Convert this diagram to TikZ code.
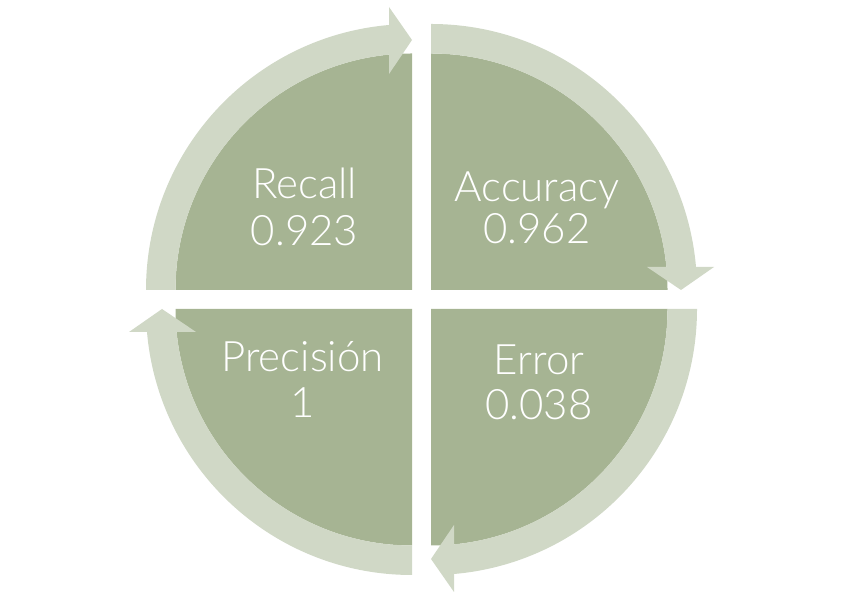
\documentclass[tikz,border=0pt]{standalone}
\usepackage{fontspec}
\setmainfont{Lato Light}
\definecolor{quad}{HTML}{A6B493}
\definecolor{band}{HTML}{D0D8C6}
\tikzset{
  quadfill/.style={fill=quad, draw=none},
  bandfill/.style={fill=band, draw=none},
  lbl/.style={text=white, anchor=base, inner sep=0pt, font=\fontsize{42}{50}\selectfont}
}
\newcommand{\quadpiece}{%
  \fill[quadfill] (0,0) -- (0:236.5) arc[start angle=0, end angle=90, radius=236.5] -- cycle;
  \fill[bandfill] (90:236.5) -- (90:266) arc[start angle=90, end angle=4, radius=266]
      -- (4:236.5) arc[start angle=4, end angle=90, radius=236.5] -- cycle;
  \fill[bandfill] (216,23) -- (283,23) -- (250,0) -- cycle;
}
\begin{document}
\begin{tikzpicture}[x=1pt,y=1pt]
\useasboundingbox (0,0) rectangle (850,604);
\begin{scope}[shift={(431,314)}]
  \quadpiece
\end{scope}
\begin{scope}[shift={(412,314)}, rotate=90]
  \quadpiece
\end{scope}
\begin{scope}[shift={(412,295)}, rotate=180]
  \quadpiece
\end{scope}
\begin{scope}[shift={(431,295)}, rotate=270]
  \quadpiece
\end{scope}
\node[lbl] (recall) at (304.5,405) {Recall};
\node[lbl] (recallv) at (304.5,358) {0.923};
\node[lbl] (acc) at (537,402.5) {Accuracy};
\node[lbl] (accv) at (537,360.5) {0.962};
\node[lbl] (prec) at (302.5,232) {Precisión};
\node[lbl] (precv) at (302.5,186) {1};
\node[lbl] (err) at (539,229) {Error};
\node[lbl] (errv) at (539,184) {0.038};
\end{tikzpicture}
\end{document}
